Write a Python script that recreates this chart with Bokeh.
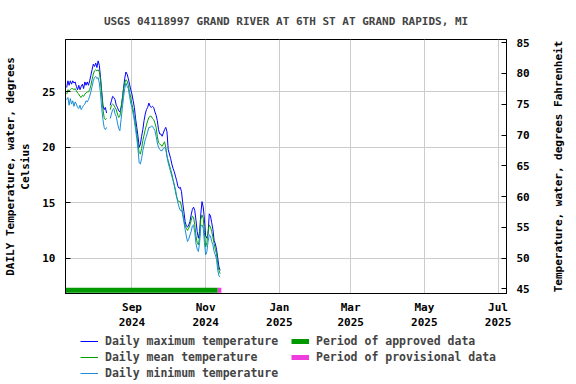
import math
import numpy as np
import pandas as pd
from bokeh.plotting import figure
from bokeh.layouts import column, row
from bokeh.models import (Range1d, LinearAxis, FixedTicker, Legend, LegendItem,
                          ColumnDataSource, Label)
from bokeh.embed import file_html
from bokeh.resources import INLINE

# ---------------- data ----------------
title_text = "USGS 04118997 GRAND RIVER AT 6TH ST AT GRAND RAPIDS, MI"
first_day = "2024-07-09"
nan = float("nan")

daily_max = [
    25.4, 26.0, 25.6, 26.0, 25.7, 26.0, 25.8, 25.9, 25.5, 25.2,
    25.6, 25.2, 25.5, 25.7, 25.3, 25.9, 25.6, 25.9, 25.6, 26.0,
    26.5, 27.0, 27.5, 27.3, 27.6, 27.2, 27.8, 27.4, 26.3, 25.0,
    23.8, 23.4, 23.6, 23.1, nan, nan, 23.8, 24.2, 24.6, 24.5,
    24.3, 23.8, 23.6, 23.3, 23.2, 23.6, 24.3, 25.3, 26.2, 26.8,
    26.6, 26.2, 25.7, 25.2, 24.8, 24.2, 23.6, 22.6, 21.8, 21.0,
    20.0, 20.3, 21.0, 21.6, 22.4, 23.0, 23.4, 23.6, 24.0, 23.7,
    23.6, 23.7, 23.6, 23.2, 22.9, 22.4, 21.6, 21.2, 21.2, 21.0,
    21.3, 21.6, 21.8, 21.4, 19.8, 19.4, 19.0, 18.5, 18.1, 17.8,
    17.4, 17.0, 16.5, 16.3, 16.4, 16.0, 15.0, 14.2, 13.3, 12.9,
    12.8, 13.0, 13.3, 13.9, 14.4, 14.6, 14.3, 13.4, 12.4, 11.8,
    12.4, 14.0, 15.1, 14.6, 13.5, 12.0, 11.8, 12.2, 14.0, 13.8,
    13.2, 12.6, 11.6, 11.3, 10.8, 10.0, 9.2, 8.9,
]
daily_mean = [
    24.8, 25.2, 25.1, 25.2, 25.3, 25.3, 25.2, 25.3, 25.1, 24.9,
    24.8, 24.6, 24.5, 24.7, 24.6, 24.8, 24.9, 25.0, 25.0, 25.2,
    25.6, 26.1, 26.6, 26.9, 27.0, 26.9, 27.0, 26.8, 26.0, 24.8,
    23.4, 22.7, 22.5, 22.6, nan, nan, 23.4, 23.8, 23.9, 23.8,
    23.6, 23.4, 23.0, 22.7, 22.8, 23.5, 24.4, 25.2, 25.8, 26.1,
    26.0, 25.6, 25.0, 24.5, 23.9, 23.4, 22.7, 22.0, 21.2, 20.3,
    19.5, 19.4, 19.9, 20.6, 21.1, 21.6, 22.0, 22.4, 22.7, 22.8,
    22.8, 22.6, 22.5, 22.2, 21.8, 21.0, 20.4, 20.3, 20.2, 20.1,
    20.3, 20.5, 20.0, 19.2, 18.8, 18.4, 18.0, 17.6, 17.1, 16.6,
    16.0, 15.5, 15.2, 15.1, 15.1, 14.7, 14.0, 13.4, 12.9, 12.7,
    12.5, 12.7, 13.0, 13.4, 13.8, 13.7, 13.0, 12.0, 11.4, 11.2,
    11.9, 13.5, 13.9, 13.6, 12.3, 11.0, 11.4, 12.4, 13.0, 12.8,
    12.4, 11.9, 11.3, 10.8, 10.4, 9.5, 8.9, 8.6,
]
daily_min = [
    24.3, 24.5, 23.8, 24.4, 23.9, 24.2, 23.7, 24.1, 23.9, 23.6,
    23.5, 23.8, 23.4, 23.6, 23.8, 23.9, 24.2, 24.1, 24.3, 24.6,
    25.0, 25.5, 26.0, 26.3, 26.4, 26.2, 26.3, 25.8, 24.8, 23.5,
    22.5, 21.8, 21.6, 21.8, nan, nan, 22.6, 23.0, 23.4, 23.5,
    23.0, 22.8, 22.2, 21.7, 21.5, 22.5, 23.5, 24.5, 25.3, 25.8,
    25.5, 25.3, 24.6, 24.0, 23.6, 23.0, 22.4, 21.6, 20.8, 19.8,
    18.6, 18.5, 19.0, 19.7, 20.2, 20.7, 21.0, 21.4, 21.8, 21.8,
    21.9, 21.9, 21.7, 21.5, 21.0, 20.4, 20.0, 19.8, 19.7, 19.7,
    19.9, 20.0, 19.8, 19.2, 18.6, 18.2, 17.8, 17.4, 17.0, 16.6,
    16.2, 15.6, 15.0, 14.6, 14.3, 14.3, 14.0, 13.3, 12.6, 12.0,
    11.5, 11.7, 12.1, 12.4, 12.9, 13.0, 12.3, 11.3, 10.8, 10.6,
    11.4, 12.9, 13.0, 12.7, 11.4, 10.3, 10.6, 11.5, 12.1, 12.0,
    11.5, 11.2, 10.6, 10.3, 9.9, 8.9, 8.4, 8.3,
]

approved_period = ["2024-07-08", "2024-11-11"]
provisional_period = ["2024-11-11", "2024-11-14"]

x_window = ["2024-07-08", "2025-07-08"]
y_window_c = [6.81, 29.73]

celsius_ticks = [10, 15, 20, 25]
fahrenheit_ticks = [45, 50, 55, 60, 65, 70, 75, 80, 85]
month_ticks = ["2024-09-01", "2024-11-01", "2025-01-01",
               "2025-03-01", "2025-05-01", "2025-07-01"]
month_labels = ["Sep\n2024", "Nov\n2024", "Jan\n2025",
                "Mar\n2025", "May\n2025", "Jul\n2025"]

left_label = "DAILY Temperature, water, degrees\nCelsius"
right_label = "Temperature, water, degrees Fahrenheit"
legend_labels = ["Daily maximum temperature", "Daily mean temperature",
                 "Daily minimum temperature", "Period of approved data",
                 "Period of provisional data"]

# ---------------- styles ----------------
FONT = "DejaVu Sans Mono"
C_MAX = "#0000ff"
C_MEAN = "#00a000"
C_MIN = "#1a8cd8"
C_APPR = "#009900"
C_PROV = "#f03cdc"
GRID = "#cccccc"
TOP, BOTTOM = 39, 36


def ms(d):
    return int(pd.Timestamp(d).value // 10**6)


def c2f(c):
    return c * 9.0 / 5.0 + 32.0


dates = pd.date_range(first_day, periods=len(daily_max), freq="D")
src = ColumnDataSource(dict(
    x=dates,
    tmax=np.array(daily_max, dtype=float),
    tmean=np.array(daily_mean, dtype=float),
    tmin=np.array(daily_min, dtype=float),
))
bar_y = y_window_c[0] + 0.3
appr_x = [pd.Timestamp(d) for d in approved_period]
prov_x = [pd.Timestamp(d) for d in provisional_period]

yr = Range1d(y_window_c[0], y_window_c[1])
p = figure(width=546, height=332, x_axis_type="datetime",
           x_range=Range1d(pd.Timestamp(x_window[0]), pd.Timestamp(x_window[1])),
           y_range=yr,
           output_backend="svg", toolbar_location=None,
           min_border_left=65, min_border_right=40,
           min_border_top=TOP, min_border_bottom=BOTTOM)

p.outline_line_color = "black"
p.outline_line_width = 1

p.title.text = title_text
p.title.align = "center"
p.title.text_font = FONT
p.title.text_font_size = "11px"
p.title.text_font_style = "bold"
p.title.standoff = 23


def draw_series(fig):
    a = fig.line("x", "tmax", source=src, color=C_MAX, line_width=1)
    b = fig.line("x", "tmean", source=src, color=C_MEAN, line_width=1)
    c = fig.line("x", "tmin", source=src, color=C_MIN, line_width=1)
    d = fig.line(x=appr_x, y=[bar_y, bar_y], color=C_APPR, line_width=5)
    e = fig.line(x=prov_x, y=[bar_y, bar_y], color=C_PROV, line_width=5)
    return [a, b, c, d, e]


draw_series(p)

# x axis
xa = p.xaxis[0]
xa.ticker = FixedTicker(ticks=[ms(d) for d in month_ticks])
xa.major_label_overrides = {ms(d): lab for d, lab in zip(month_ticks, month_labels)}
xa.major_tick_in = 0
xa.major_tick_out = 0
xa.minor_tick_in = 0
xa.minor_tick_out = 0
xa.major_tick_line_color = None
xa.minor_tick_line_color = None
xa.major_label_standoff = 7
xa.axis_line_color = "black"

# left axis
ya = p.yaxis[0]
ya.ticker = FixedTicker(ticks=celsius_ticks)
ya.major_tick_in = 5
ya.major_tick_out = 0
ya.minor_tick_in = 0
ya.minor_tick_out = 0
ya.minor_tick_line_color = None
ya.major_label_standoff = 10
ya.axis_label = left_label
ya.axis_label_standoff = 7

# right axis (label drawn in a narrow strip to its right)
p.extra_y_ranges = {"F": Range1d(c2f(y_window_c[0]), c2f(y_window_c[1]))}
ra = LinearAxis(y_range_name="F", ticker=FixedTicker(ticks=fahrenheit_ticks))
ra.major_tick_in = 5
ra.major_tick_out = 0
ra.minor_tick_in = 0
ra.minor_tick_out = 0
ra.minor_tick_line_color = None
ra.major_label_standoff = 10
p.add_layout(ra, "right")

for ax in [xa, ya, ra]:
    ax.major_label_text_font = FONT
    ax.major_label_text_font_size = "11px"
    ax.major_label_text_font_style = "bold"
    ax.major_label_text_color = "black"
    ax.axis_label_text_font = FONT
    ax.axis_label_text_font_size = "11px"
    ax.axis_label_text_font_style = "bold"
    ax.axis_label_text_color = "black"

p.xgrid.ticker = xa.ticker
p.ygrid.ticker = ya.ticker
p.xgrid.grid_line_color = GRID
p.ygrid.grid_line_color = GRID

# ---------------- right label strip ----------------
side = figure(width=30, height=332, output_backend="svg", toolbar_location=None,
              x_axis_location=None, y_axis_location=None,
              x_range=Range1d(0, 1), y_range=yr,
              min_border_left=0, min_border_right=0,
              min_border_top=TOP, min_border_bottom=BOTTOM,
              outline_line_color=None)
side.grid.visible = False
side.add_layout(Label(x=12, x_units="screen",
                      y=(y_window_c[0] + y_window_c[1]) / 2,
                      text=right_label, angle=math.pi / 2,
                      text_align="center", text_baseline="middle",
                      text_font=FONT, text_font_size="11px",
                      text_font_style="bold", text_color="black"))

# ---------------- legend strip below ----------------
lg = figure(width=576, height=52, output_backend="svg", toolbar_location=None,
            x_axis_location=None, y_axis_location=None,
            x_range=Range1d(0, 1), y_range=Range1d(0, 1),
            min_border=0, outline_line_color=None)
lg.grid.visible = False
g = draw_series(lg)  # same styles; the data lie outside this strip's ranges

legend = Legend(items=[
    LegendItem(label=legend_labels[0], renderers=[g[0]]),
    LegendItem(label=legend_labels[1], renderers=[g[1]]),
    LegendItem(label=legend_labels[2], renderers=[g[2]]),
    LegendItem(label=legend_labels[3], renderers=[g[3]]),
    LegendItem(label=legend_labels[4], renderers=[g[4]]),
], orientation="vertical", nrows=3, location=(80, 3))
legend.label_text_font = FONT
legend.label_text_font_size = "11.5px"
legend.label_text_font_style = "bold"
legend.glyph_width = 18
legend.glyph_height = 16
legend.label_height = 16
legend.label_width = 186
legend.label_standoff = 7
legend.spacing = 0
legend.padding = 0
legend.margin = 0
legend.border_line_color = None
legend.background_fill_alpha = 0
lg.add_layout(legend, "center")

layout = column(row(p, side, spacing=0), lg, spacing=0)
open("out.html", "w").write(file_html(layout, INLINE))
